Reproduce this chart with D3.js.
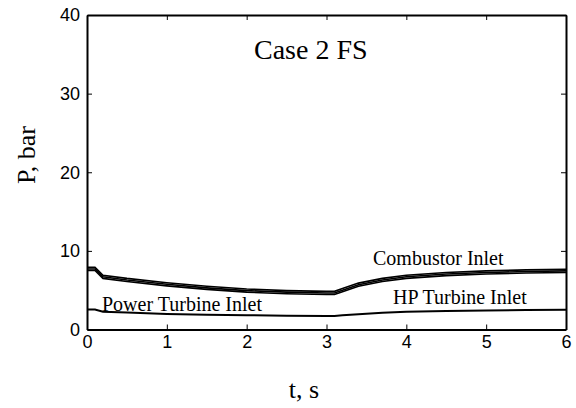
<!DOCTYPE html>
<html>
<head>
<meta charset="utf-8">
<script src="https://cdn.jsdelivr.net/npm/d3@7"></script>
<style>
  body { margin: 0; background: #fff; }
  svg { display: block; }
  .tick text { font-family: "Liberation Sans", Arial, sans-serif; font-size: 18px; fill: #000; }
  .lbl { font-family: "Liberation Serif", "Times New Roman", serif; fill: #000; }
</style>
</head>
<body>
<div id="container"></div>
<script>
// time points (s)
const times = [0, 0.1, 0.2, 0.5, 1, 1.5, 2, 2.5, 3, 3.1, 3.2, 3.4, 3.7, 4, 4.5, 5, 5.5, 6];
// combustor inlet band (three close traces), bar
const combustorHigh = [7.9, 7.9, 6.9, 6.5, 5.95, 5.5, 5.15, 4.95, 4.85, 4.85, 5.2, 5.9, 6.5, 6.9, 7.25, 7.45, 7.58, 7.65];
const combustorMid  = [7.7, 7.7, 6.7, 6.3, 5.75, 5.3, 4.95, 4.75, 4.65, 4.65, 5.0, 5.7, 6.3, 6.7, 7.05, 7.25, 7.38, 7.45];
const combustorLow  = [7.5, 7.5, 6.5, 6.1, 5.55, 5.1, 4.75, 4.55, 4.45, 4.45, 4.8, 5.5, 6.1, 6.5, 6.85, 7.05, 7.18, 7.25];
// power turbine inlet, bar
const powerTurbine = [2.55, 2.55, 2.25, 2.15, 1.98, 1.88, 1.82, 1.76, 1.72, 1.72, 1.8, 1.95, 2.12, 2.25, 2.36, 2.43, 2.47, 2.5];

const xTicks = [0, 1, 2, 3, 4, 5, 6];
const yTicks = [0, 10, 20, 30, 40];

const w = 576, h = 408;
const plotLeft = 87, plotRight = 566, plotTop = 15, plotBottom = 329.5;

const x = d3.scaleLinear().domain([0, 6]).range([plotLeft, plotRight]);
const y = d3.scaleLinear().domain([0, 40]).range([plotBottom, plotTop]);

const svg = d3.select("#container").append("svg")
    .attr("width", w)
    .attr("height", h);

const line = d3.line()
    .x((d, i) => x(times[i]))
    .y(d => y(d));

[combustorHigh, combustorMid, combustorLow].forEach(s => {
  svg.append("path")
      .attr("d", line(s))
      .attr("fill", "none")
      .attr("stroke", "#000")
      .attr("stroke-width", 1.6);
});

svg.append("path")
    .attr("d", line(powerTurbine))
    .attr("fill", "none")
    .attr("stroke", "#000")
    .attr("stroke-width", 2);

// axes, ticks pointing inward on all four sides
function styleAxis(g) {
  g.select(".domain").attr("stroke-width", 2);
  g.selectAll(".tick line").attr("stroke-width", 1);
}

svg.append("g")
    .attr("transform", "translate(0," + plotBottom + ")")
    .call(d3.axisBottom(x).tickValues(xTicks).tickSizeInner(-5).tickSizeOuter(0).tickPadding(5.5).tickFormat(d3.format("d")))
    .call(styleAxis);

svg.append("g")
    .attr("transform", "translate(0," + plotTop + ")")
    .call(d3.axisTop(x).tickValues(xTicks).tickSizeInner(-5).tickSizeOuter(0).tickFormat(""))
    .call(styleAxis);

svg.append("g")
    .attr("transform", "translate(" + plotLeft + ",0)")
    .call(d3.axisLeft(y).tickValues(yTicks).tickSizeInner(-5).tickSizeOuter(0).tickPadding(7).tickFormat(d3.format("d")))
    .call(styleAxis);

svg.append("g")
    .attr("transform", "translate(" + plotRight + ",0)")
    .call(d3.axisRight(y).tickValues(yTicks).tickSizeInner(-5).tickSizeOuter(0).tickFormat(""))
    .call(styleAxis);

// labels
svg.append("text").attr("class", "lbl")
    .attr("x", 254).attr("y", 59)
    .style("font-size", "28px")
    .text("Case 2 FS");

svg.append("text").attr("class", "lbl")
    .attr("x", 373).attr("y", 265)
    .style("font-size", "20px")
    .text("Combustor Inlet");

svg.append("text").attr("class", "lbl")
    .attr("x", 393).attr("y", 304)
    .style("font-size", "20px")
    .text("HP Turbine Inlet");

svg.append("text").attr("class", "lbl")
    .attr("x", 102).attr("y", 311)
    .style("font-size", "20px")
    .text("Power Turbine Inlet");

svg.append("text").attr("class", "lbl")
    .attr("x", 304).attr("y", 398)
    .attr("text-anchor", "middle")
    .style("font-size", "26px")
    .text("t, s");

svg.append("text").attr("class", "lbl")
    .attr("transform", "translate(35,155) rotate(-90)")
    .attr("text-anchor", "middle")
    .style("font-size", "26px")
    .text("P, bar");
</script>
</body>
</html>
